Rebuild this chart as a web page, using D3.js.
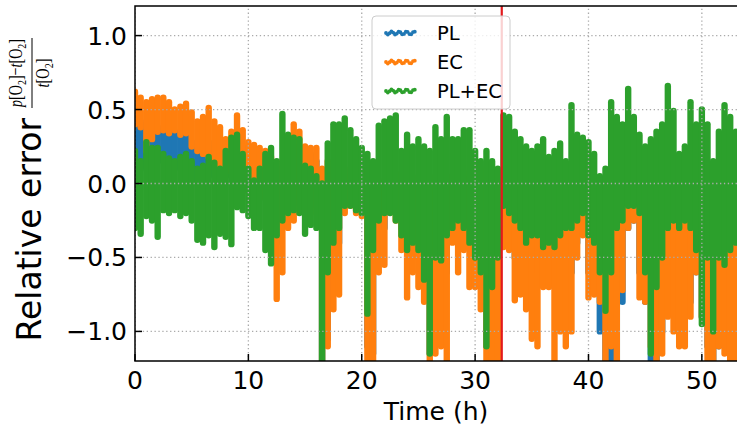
<!DOCTYPE html>
<html lang="en">
<head>
<meta charset="utf-8">
<title>relative error</title>
<style>
  body { margin: 0; background: #fff; }
  text { font-family: "DejaVu Sans", sans-serif; fill: #000; }
</style>
</head>
<body>
<svg id="chart"></svg>
<script src="https://cdn.jsdelivr.net/npm/d3@7/dist/d3.min.js"></script>
<script>
// sample times (h), every half hour
const times = [0,0.5,1,1.5,2,2.5,3,3.5,4,4.5,5,5.5,6,6.5,7,7.5,8,8.5,9,9.5,
  10,10.5,11,11.5,12,12.5,13,13.5,14,14.5,15,15.5,16,16.5,17,17.5,18,18.5,19,19.5,
  20,20.5,21,21.5,22,22.5,23,23.5,24,24.5,25,25.5,26,26.5,27,27.5,28,28.5,29,29.5,
  30,30.5,31,31.5,32,32.5,33,33.5,34,34.5,35,35.5,36,36.5,37,37.5,38,38.5,39,39.5,
  40,40.5,41,41.5,42,42.5,43,43.5,44,44.5,45,45.5,46,46.5,47,47.5,48,48.5,49,49.5,
  50,50.5,51,51.5,52,52.5,53];

// spread of each series at each time: top and bottom of the point cloud
const plHigh = [0.40,0.42,0.40,0.40,0.38,0.36,0.38,0.35,0.35,0.32,0.28,0.22,0.25,0.28,0.25,0.22,0.28,0.30,0.30,0.25,
  0.20,0.18,0.15,0.15,0.15,0.10,0.10,0.20,0.25,0.25,0.20,0.20,0.15,0.05,0.10,0.05,0.05,0.00,0.05,0.10,
  0.05,0.00,0.00,0.00,0.00,0.00,0.00,0.00,0.00,-0.05,0.00,0.00,0.00,0.00,0.00,0.00,0.00,0.00,0.00,0.00,
  0.05,0.00,0.00,0.00,-0.05,-0.05,-0.05,-0.05,-0.05,-0.05,-0.05,-0.05,-0.05,-0.05,-0.05,-0.05,0.00,0.05,0.00,0.00,
  0.00,0.00,0.00,-0.05,0.00,0.05,0.15,0.29,0.15,0.05,0.00,0.00,0.00,0.20,0.33,0.20,0.05,0.05,0.14,0.05,
  0.00,0.00,0.00,0.00,0.00,0.00,0.00];
const plLow = [0.08,0.10,0.15,0.15,0.15,0.15,0.15,0.15,0.10,0.10,0.02,0.00,0.00,0.05,0.05,0.05,0.05,0.05,0.05,0.00,
  -0.05,-0.05,-0.05,-0.10,-0.15,-0.40,-0.30,-0.20,-0.15,-0.10,-0.10,-0.10,-0.15,-1.30,-1.05,-0.50,-0.40,-0.15,-0.10,-0.10,
  -0.15,-1.10,-1.15,-0.30,-0.30,-0.15,-0.20,-0.30,-0.40,-0.40,-0.50,-0.70,-1.15,-0.70,-0.60,-0.60,-0.30,-0.30,-0.30,-0.40,
  -0.50,-0.70,-1.10,-1.10,-0.80,-0.30,-0.35,-0.50,-0.50,-0.50,-0.60,-0.60,-0.50,-0.50,-0.70,-0.70,-0.60,-0.60,-0.40,-0.30,
  -0.60,-0.70,-1.00,-1.30,-1.30,-1.30,-0.80,-0.30,-0.25,-0.60,-0.80,-1.30,-1.30,-1.00,-0.70,-0.70,-0.90,-0.90,-0.80,-0.60,
  -0.90,-1.10,-1.30,-1.10,-1.00,-1.30,-1.00];

const ecHigh = [0.62,0.58,0.55,0.57,0.58,0.58,0.55,0.50,0.52,0.54,0.48,0.42,0.45,0.51,0.42,0.38,0.30,0.35,0.46,0.36,
  0.28,0.26,0.24,0.22,0.18,0.10,0.15,0.30,0.40,0.35,0.25,0.24,0.24,0.10,0.15,0.10,0.05,0.05,0.10,0.18,
  0.10,0.05,0.00,0.00,0.02,0.05,0.07,0.03,0.02,0.00,0.05,0.02,0.00,0.05,0.08,0.05,0.05,0.05,0.05,0.08,
  0.13,0.10,0.05,0.05,0.00,0.00,0.00,0.00,0.00,0.00,0.00,0.00,0.00,-0.02,0.00,0.00,0.02,0.07,0.00,0.00,
  0.00,0.00,0.00,-0.05,0.00,0.05,0.10,0.20,0.10,0.05,0.00,0.00,0.00,0.10,0.20,0.10,0.00,0.00,0.00,0.00,
  0.00,0.00,0.00,0.00,0.01,0.00,0.00];
const ecLow = [0.40,0.38,0.22,0.30,0.35,0.36,0.34,0.36,0.33,0.34,0.25,0.22,0.20,0.18,0.14,0.12,0.08,0.08,0.12,0.06,
  -0.05,-0.05,-0.05,-0.10,-0.20,-0.78,-0.60,-0.30,-0.25,-0.10,-0.15,-0.15,-0.20,-1.30,-1.10,-0.85,-0.75,-0.20,-0.15,-0.20,
  -0.22,-1.30,-1.30,-0.60,-0.55,-0.15,-0.25,-0.45,-0.77,-0.60,-0.70,-0.80,-1.30,-1.15,-1.10,-1.30,-0.40,-0.60,-0.45,-0.70,
  -0.70,-0.85,-1.30,-1.30,-1.30,-0.43,-0.45,-0.79,-0.75,-0.85,-1.05,-1.10,-0.70,-0.70,-1.30,-1.00,-1.10,-1.00,-0.50,-0.35,
  -0.77,-0.75,-0.80,-1.30,-1.10,-1.30,-0.72,-0.30,-0.25,-0.77,-0.80,-1.10,-1.30,-1.15,-0.90,-1.00,-1.10,-1.10,-0.90,-0.60,
  -0.90,-1.30,-1.30,-1.10,-1.15,-1.30,-1.30];

const bothHigh = [0.22,0.15,0.28,0.24,0.24,0.20,0.17,0.15,0.18,0.20,0.15,0.10,0.12,0.18,0.14,0.10,0.22,0.31,0.33,0.20,
  0.10,0.02,0.10,0.20,0.24,0.15,0.47,0.33,0.31,0.30,0.12,0.10,0.05,0.00,0.27,0.40,0.40,0.44,0.36,0.30,
  0.24,0.20,0.15,0.39,0.42,0.44,0.46,0.22,0.33,0.25,0.30,0.25,0.22,0.38,0.30,0.45,0.30,0.30,0.36,0.36,
  0.22,0.15,0.22,0.15,0.10,0.46,0.45,0.35,0.30,0.25,0.22,0.25,0.30,0.18,0.22,0.27,0.15,0.53,0.33,0.31,
  0.28,0.20,0.05,0.10,0.55,0.45,0.40,0.64,0.45,0.33,0.25,0.30,0.35,0.40,0.66,0.49,0.20,0.25,0.55,0.40,
  0.50,0.40,0.15,0.35,0.53,0.45,0.35];
const bothLow = [-0.30,-0.34,-0.22,-0.25,-0.36,-0.18,-0.20,-0.18,-0.22,-0.20,-0.25,-0.38,-0.40,-0.35,-0.43,-0.34,-0.36,-0.41,-0.16,-0.18,
  -0.22,-0.30,-0.30,-0.45,-0.54,-0.35,-0.25,-0.20,-0.18,-0.20,-0.34,-0.28,-0.30,-1.30,-0.60,-0.40,-0.30,-0.15,-0.15,-0.18,
  -0.20,-0.88,-0.45,-0.25,-0.20,-0.20,-0.25,-0.35,-0.45,-0.40,-0.45,-0.65,-1.15,-0.50,-0.52,-0.35,-0.30,-0.25,-0.30,-0.40,
  -0.50,-0.60,-1.10,-0.70,-0.50,-0.15,-0.20,-0.25,-0.30,-0.40,-0.35,-0.35,-0.43,-0.40,-0.43,-0.35,-0.30,-0.30,-0.25,-0.20,
  -0.35,-0.40,-0.60,-0.86,-0.60,-0.30,-0.25,-0.15,-0.15,-0.20,-0.60,-1.15,-0.70,-0.50,-0.30,-0.25,-0.30,-0.25,-0.30,-0.45,
  -0.95,-0.50,-1.00,-0.50,-0.55,-0.45,-0.40];

const seriesNames = ['PL', 'EC', 'PL+EC'];
const seriesColors = ['#1f77b4', '#ff7f0e', '#2ca02c'];
const xTicks = [0, 10, 20, 30, 40, 50];
const yTicks = [-1.0, -0.5, 0.0, 0.5, 1.0];
const marker = 32.35; // vertical red line (h)

const [width, height] = [737, 429];
const margin = { top: 6, right: 0, bottom: 68, left: 135 };

const svg = d3.select('#chart')
  .attr('width', width)
  .attr('height', height);

const x = d3.scaleLinear().domain([0, 53.1]).range([margin.left, width - margin.right]);
const y = d3.scaleLinear().domain([-1.2, 1.2]).range([height - margin.bottom, margin.top]);

svg.append('clipPath').attr('id', 'plotclip')
  .append('rect')
  .attr('x', x.range()[0]).attr('y', y.range()[1])
  .attr('width', x.range()[1] - x.range()[0])
  .attr('height', y.range()[0] - y.range()[1]);

const plot = svg.append('g').attr('clip-path', 'url(#plotclip)');

// point clouds as vertical streaks, blue first, green on top
const series = [[plHigh, plLow], [ecHigh, ecLow], [bothHigh, bothLow]];
series.forEach(function(s, k) {
  plot.append('g')
    .attr('stroke', seriesColors[k])
    .attr('stroke-width', 6.4)
    .attr('stroke-linecap', 'round')
    .selectAll('line')
    .data(times)
    .join('line')
    .attr('x1', d => x(d))
    .attr('x2', d => x(d))
    .attr('y1', (d, i) => y(s[0][i]))
    .attr('y2', (d, i) => y(s[1][i]));
});

// dotted grid
const grid = plot.append('g')
  .attr('stroke', '#aaaaaa')
  .attr('stroke-width', 1.3)
  .attr('stroke-dasharray', '1.3,2.6');
grid.selectAll('.gx').data(xTicks).join('line').attr('class', 'gx')
  .attr('x1', d => x(d)).attr('x2', d => x(d))
  .attr('y1', y.range()[0]).attr('y2', y.range()[1]);
grid.selectAll('.gy').data(yTicks).join('line').attr('class', 'gy')
  .attr('x1', x.range()[0]).attr('x2', x.range()[1])
  .attr('y1', d => y(d)).attr('y2', d => y(d));

plot.append('line')
  .attr('x1', x(marker)).attr('x2', x(marker))
  .attr('y1', y.range()[0]).attr('y2', y.range()[1])
  .attr('stroke', '#e3191c')
  .attr('stroke-width', 2.2);

// spines and inward ticks
const spines = svg.append('g').attr('stroke', '#000').attr('stroke-width', 1.5).attr('fill', 'none');
spines.append('path')
  .attr('d', 'M' + x.range()[1] + ',' + y.range()[1] + 'H' + x.range()[0] + 'V' + y.range()[0] + 'H' + x.range()[1]);
spines.selectAll('.tx').data(xTicks).join('line').attr('class', 'tx')
  .attr('x1', d => x(d)).attr('x2', d => x(d))
  .attr('y1', y.range()[0]).attr('y2', y.range()[0] - 7);
spines.selectAll('.ty').data(yTicks).join('line').attr('class', 'ty')
  .attr('x1', x.range()[0]).attr('x2', x.range()[0] + 7)
  .attr('y1', d => y(d)).attr('y2', d => y(d));

const fmt = d3.format('.1f');
svg.append('g').selectAll('text').data(yTicks).join('text')
  .attr('x', x.range()[0] - 8)
  .attr('y', d => y(d))
  .attr('dy', '0.36em')
  .attr('text-anchor', 'end')
  .style('font-size', '25px')
  .text(d => fmt(d).replace('-', '\u2212'));

svg.append('g').selectAll('text').data(xTicks).join('text')
  .attr('x', d => x(d))
  .attr('y', 389)
  .attr('text-anchor', 'middle')
  .style('font-size', '25px')
  .text(d => d);

svg.append('text')
  .attr('x', (x.range()[0] + x.range()[1]) / 2)
  .attr('y', 420)
  .attr('text-anchor', 'middle')
  .style('font-size', '25px')
  .text('Time (h)');

// y label with the fraction
svg.append('text')
  .attr('transform', 'translate(41,118) rotate(-90)')
  .attr('text-anchor', 'end')
  .style('font-size', '33px')
  .text('Relative error');

const frac = svg.append('g').attr('transform', 'translate(32,73) rotate(-90)');
frac.append('line')
  .attr('x1', -35).attr('x2', 35)
  .attr('stroke', '#000').attr('stroke-width', 1);

function mathText(sel, parts) {
  parts.forEach(function(p) {
    const t = sel.append('tspan').text(p[0]);
    if (p[1] === 'i') t.style('font-style', 'italic');
    if (p[1] === 's') t.attr('dy', 4).style('font-size', '70%');
    if (p[1] === 'u') t.attr('dy', -4);
  });
}
const num = frac.append('text')
  .attr('x', 0).attr('y', -10)
  .attr('text-anchor', 'middle')
  .attr('textLength', 68)
  .attr('lengthAdjust', 'spacingAndGlyphs')
  .style('font-family', '"Liberation Serif", serif')
  .style('font-size', '19px');
mathText(num, [['p', 'i'], ['[O'], ['2', 's'], [']', 'u'], ['\u2212'], ['t', 'i'], ['[O'], ['2', 's'], [']', 'u']]);
const den = frac.append('text')
  .attr('x', 0).attr('y', 17)
  .attr('text-anchor', 'middle')
  .attr('textLength', 29)
  .attr('lengthAdjust', 'spacingAndGlyphs')
  .style('font-family', '"Liberation Serif", serif')
  .style('font-size', '19px');
mathText(den, [['t', 'i'], ['[O'], ['2', 's'], [']', 'u']]);

// legend
const legend = svg.append('g').attr('transform', 'translate(372,16)');
legend.append('rect')
  .attr('width', 138).attr('height', 93).attr('rx', 4)
  .attr('fill', '#fff').attr('fill-opacity', 0.8)
  .attr('stroke', '#cccccc').attr('stroke-width', 1);

const wave = d3.range(0, 29, 1.8);
const entry = legend.selectAll('.entry').data(seriesNames).join('g')
  .attr('class', 'entry')
  .attr('transform', (d, i) => 'translate(0,' + (17 + i * 29) + ')');
entry.each(function(d, i) {
  d3.select(this).selectAll('circle').data(wave).join('circle')
    .attr('cx', w => 14 + w)
    .attr('cy', w => 1.6 * Math.sin(w / 7.5 * 2 * Math.PI))
    .attr('r', 1.9)
    .attr('fill', seriesColors[i]);
});
entry.append('text')
  .attr('x', 65)
  .attr('dy', '0.36em')
  .style('font-size', '19.5px')
  .text(d => d);
</script>
</body>
</html>
